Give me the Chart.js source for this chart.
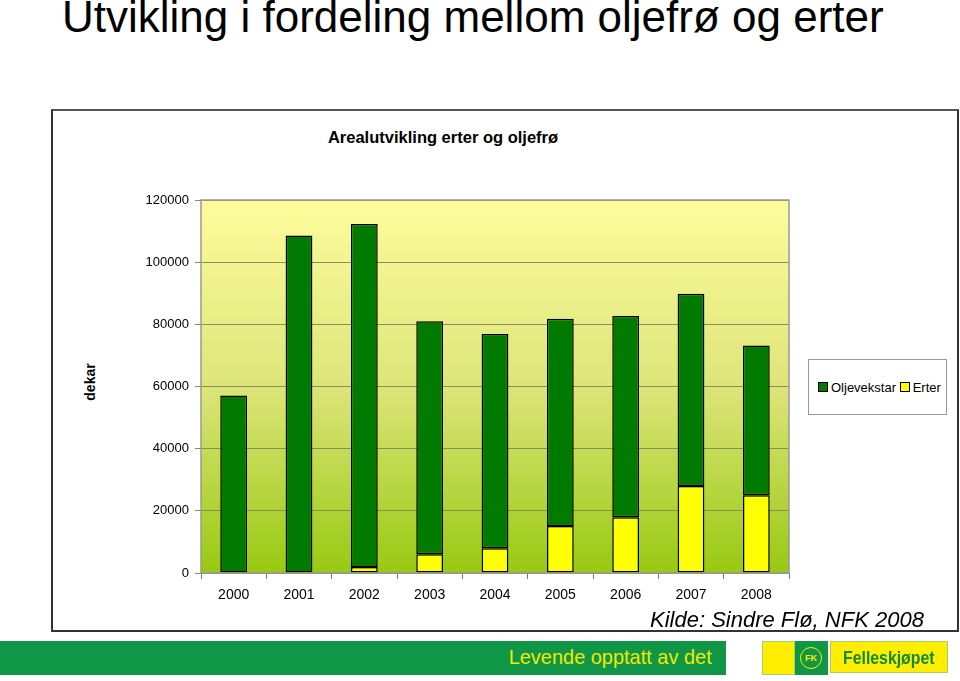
<!DOCTYPE html>
<html>
<head>
<meta charset="utf-8">
<script src="https://cdn.jsdelivr.net/npm/chart.js@4.4.0/dist/chart.umd.min.js"></script>
<style>
  body { margin: 0; width: 960px; height: 681px; background: #fff; position: relative; overflow: hidden; font-family: "Liberation Sans", Arial, sans-serif; }
  .abs { position: absolute; }
  #mainTitle { left: 62px; top: -8px; font-size: 44px; white-space: nowrap; }
  #box { left: 51px; top: 109px; width: 904px; height: 519px; border: 2px solid #333; border-top-color: #555; }
  #chartTitle { left: 0; width: 886px; top: 128px; text-align: center; font-size: 16.5px; font-weight: bold; }
  #yTitle { left: 70px; top: 374px; font-size: 14px; font-weight: bold; transform: rotate(-90deg); transform-origin: center; width: 40px; text-align: center; }
  #legend { left: 808px; top: 359px; width: 137px; height: 54px; border: 1px solid #999; background: #fff; font-size: 13px; }
  #legend span.sw { display: inline-block; width: 8px; height: 8px; border: 1px solid #000; margin-right: 3px; vertical-align: 0px; }
  #legend .row { position: absolute; top: 20px; left: 9px; white-space: nowrap; }
  #kilde { left: 650px; top: 607px; font-size: 22px; font-style: italic; white-space: nowrap; }
  #band { left: 0; top: 641px; width: 726px; height: 34px; background: #0f9647; }
  #band div { position: absolute; right: 14px; top: 4px; color: #f4e800; font-size: 21px; transform: scaleX(0.95); transform-origin: right; white-space: nowrap; }
  .yel { background: #ffee00; border: 1px solid #9fd46a; }
  #logoG { left: 795px; top: 641px; width: 33px; height: 34px; background: #0f9647; }
  #logoG div { position: absolute; left: 5px; top: 6px; width: 20px; height: 20px; border-radius: 50%; border: 1px solid #ffee00; color: #ffee00; font-size: 9px; font-weight: bold; text-align: center; line-height: 20px; }
  #felles { color: #128a3c; font-weight: bold; font-size: 18px; line-height: 32px; box-sizing: border-box; }
  #felles span { display: inline-block; margin-left: 12px; transform: scaleX(0.88); transform-origin: left; }
  canvas { position: absolute; left: 0; top: 0; }
</style>
</head>
<body>
<div id="mainTitle" class="abs">Utvikling i fordeling mellom oljefrø og erter</div>
<div id="box" class="abs"></div>
<div id="chartTitle" class="abs">Arealutvikling erter og oljefrø</div>
<div id="yTitle" class="abs">dekar</div>
<canvas id="chart" width="960" height="681"></canvas>
<div id="legend" class="abs"><div class="row"><span class="sw" style="background:#007a00"></span>Oljevekstar&nbsp;<span class="sw" style="background:#ffff00"></span>Erter</div></div>
<div id="kilde" class="abs">Kilde: Sindre Flø, NFK 2008</div>
<div id="band" class="abs"><div>Levende opptatt av det</div></div>
<div class="abs yel" style="left:762px;top:641px;width:31px;height:32px"></div>
<div id="logoG" class="abs"><div>FK</div></div>
<div id="felles" class="abs yel" style="left:830px;top:641px;width:118px;height:32px"><span>Felleskjøpet</span></div>

<script>
// data
const years = ['2000', '2001', '2002', '2003', '2004', '2005', '2006', '2007', '2008'];
const erter = [0, 0, 1900, 6000, 8000, 15100, 17900, 28000, 25000];
const oljevekstar = [57100, 108600, 110400, 75000, 68900, 66700, 64800, 61800, 48200];
const yTicks = [0, 20000, 40000, 60000, 80000, 100000, 120000];

// plot area background + frame
const plotBg = {
  id: 'plotBg',
  beforeDraw(chart) {
    const { ctx, chartArea: a } = chart;
    const g = ctx.createLinearGradient(0, a.top, 0, a.bottom);
    g.addColorStop(0, '#fdfc9c');
    g.addColorStop(0.5, '#dde57a');
    g.addColorStop(1, '#98c912');
    ctx.save();
    ctx.fillStyle = g;
    ctx.fillRect(a.left, a.top, a.right - a.left, a.bottom - a.top);
    ctx.restore();
  },
  afterDraw(chart) {
    const { ctx, chartArea: a } = chart;
    ctx.save();
    ctx.strokeStyle = '#999';
    ctx.lineWidth = 1.5;
    ctx.strokeRect(a.left, a.top, a.right - a.left, a.bottom - a.top);
    ctx.restore();
  }
};

const ctx = document.getElementById('chart').getContext('2d');
new Chart(ctx, {
  type: 'bar',
  data: {
    labels: years,
    datasets: [
      { label: 'Erter', data: erter, backgroundColor: '#ffff00', borderColor: '#000', borderWidth: 1.5, borderSkipped: false, barPercentage: 0.41, categoryPercentage: 1 },
      { label: 'Oljevekstar', data: oljevekstar, backgroundColor: '#007a00', borderColor: '#000', borderWidth: 1.5, borderSkipped: false, barPercentage: 0.41, categoryPercentage: 1 }
    ]
  },
  options: {
    responsive: false,
    animation: false,
    layout: { padding: { left: 131, right: 171, top: 200, bottom: 78 } },
    plugins: { legend: { display: false }, tooltip: { enabled: false } },
    scales: {
      x: {
        stacked: true,
        afterFit: s => { s.height = 30; },
        grid: { drawOnChartArea: false, color: '#777', tickLength: 6 },
        border: { display: false },
        ticks: { color: '#000', font: { size: 14, family: 'Liberation Sans' }, padding: 8 }
      },
      y: {
        stacked: true,
        min: 0,
        max: 120000,
        afterFit: s => { s.width = 70; },
        afterBuildTicks: s => { s.ticks = yTicks.map(v => ({ value: v })); },
        grid: { color: '#8d8d5c', lineWidth: 1, tickLength: 6 },
        border: { display: false },
        ticks: { color: '#000', font: { size: 13, family: 'Liberation Sans' }, padding: 6, callback: v => String(v) }
      }
    }
  },
  plugins: [plotBg]
});
</script>
</body>
</html>
